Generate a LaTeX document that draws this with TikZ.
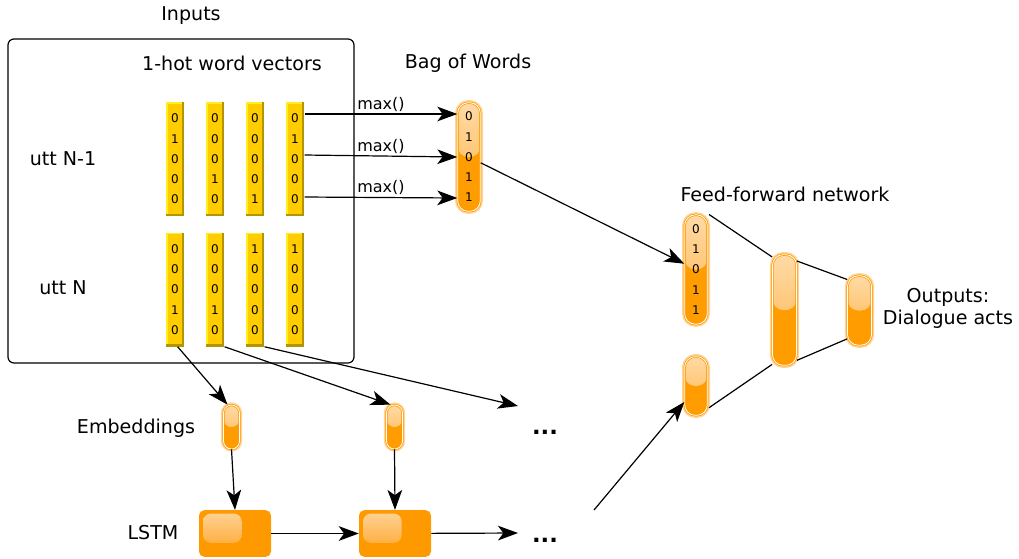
\documentclass[tikz,border=0pt]{standalone}
\usepackage{fontspec}
\setmainfont{DejaVu Sans}
\usetikzlibrary{arrows.meta}

\definecolor{barfill}{HTML}{FFCC00}
\definecolor{barlight}{HTML}{FFEE22}
\definecolor{bardark}{HTML}{B39500}
\definecolor{pillorange}{HTML}{FF9C00}
\definecolor{pilltop}{HTML}{FFDAA6}
\definecolor{pillmid}{HTML}{FFB446}
\definecolor{pillrim}{HTML}{FF9900}
\definecolor{pillglow}{HTML}{FFD698}
\definecolor{lstmorange}{HTML}{FF9900}
\definecolor{lstmshine}{HTML}{FFD49A}
\definecolor{lstmfade}{HTML}{FFA11E}

\tikzset{
	lbl/.style={font=\fontsize{14.3}{17}\selectfont},
	maxlbl/.style={font=\fontsize{12}{14}\selectfont, inner sep=1.5pt},
	dots/.style={font=\fontsize{17}{20}\selectfont\bfseries},
	digits/.style={font=\fontsize{9}{15.2}\selectfont},
	frame/.style={draw, line width=0.9pt, rounded corners=4.5pt, minimum width=259.5pt, minimum height=243pt},
	hotvec/.style={fill=barfill, minimum width=14pt, minimum height=85.5pt, inner sep=0pt, align=center, digits,
		path picture={
			\fill[barlight] (path picture bounding box.north west) rectangle ([xshift=1.4pt]path picture bounding box.south west);
			\fill[barlight] (path picture bounding box.north west) rectangle ([yshift=-1.4pt]path picture bounding box.north east);
			\fill[bardark] ([xshift=-1.8pt]path picture bounding box.north east) rectangle (path picture bounding box.south east);
			\fill[bardark] ([yshift=1.8pt]path picture bounding box.south west) rectangle (path picture bounding box.south east);
		}},
	pill/.style={rounded corners=#1, draw=pillrim, line width=0.55pt, double=white, double distance=0.6pt,
		fill=pillorange, inner sep=0pt, align=center, digits,
		preaction={draw=pillglow, line width=4pt},
		path picture={\shade[top color=pilltop, bottom color=pillmid]
			(path picture bounding box.north west) rectangle (path picture bounding box.east);}},
	lstm/.style={fill=lstmorange, rounded corners=4pt, minimum width=54pt, minimum height=35pt, inner sep=0pt,
		path picture={\shade[top color=lstmshine, bottom color=lstmfade, rounded corners=6pt]
			([xshift=3pt,yshift=-2.5pt]path picture bounding box.north west) rectangle ++(29pt,-22pt);}},
	conn/.style={-{Stealth[length=15pt,width=11pt,inset=4pt]}, line width=0.9pt},
	link/.style={line width=0.9pt},
}

\begin{document}
\begin{tikzpicture}[x=0.75pt, y=-0.75pt]
	\useasboundingbox (0,0) rectangle (1019,558);

	% inputs
	\node (box)[frame] at (181,201) {};
	\node (inputs)[lbl] at (191,16) {Inputs};
	\node (onehot)[lbl] at (232,63) {1-hot word vectors};
	\node (bowlbl)[lbl] at (468,63) {Bag of Words};
	\node (uttA)[lbl] at (63,159) {utt N-1};
	\node (uttB)[lbl] at (63,288) {utt N};

	\node (a1)[hotvec] at (175,159) {0\\1\\0\\0\\0};
	\node (a2)[hotvec] at (215,159) {0\\0\\0\\1\\0};
	\node (a3)[hotvec] at (255,159) {0\\0\\0\\0\\1};
	\node (a4)[hotvec] at (295,159) {0\\1\\0\\0\\0};

	\node (b1)[hotvec] at (175,289.5) {0\\0\\0\\1\\0};
	\node (b2)[hotvec] at (215,289.5) {0\\0\\0\\1\\0};
	\node (b3)[hotvec] at (255,289.5) {1\\0\\0\\0\\0};
	\node (b4)[hotvec] at (295,289.5) {1\\0\\0\\0\\0};

	% bag of words
	\node (bow)[pill=8pt, minimum width=17pt, minimum height=81.5pt] at (469,157) {0\\1\\0\\1\\1};
	\draw [conn](a4.east |- 0,114) -- (bow.west |- 0,114) node [midway, above, maxlbl]{max()};
	\draw [conn](a4.east |- 0,155) -- (bow.west |- 0,157) node [midway, above, maxlbl]{max()};
	\draw [conn](a4.east |- 0,197) -- (bow.west |- 0,198) node [midway, above, maxlbl]{max()};

	% feed-forward network
	\node (fflbl)[lbl] at (785,194) {Feed-forward network};
	\node (ff1)[pill=8pt, minimum width=17pt, minimum height=82pt] at (696,269.5) {0\\1\\0\\1\\1};
	\node (ff2)[pill=8pt, minimum width=17pt, minimum height=44pt] at (696,386) {};
	\node (hid)[pill=8pt, minimum width=18pt, minimum height=83pt] at (784.5,310) {};
	\node (out)[pill=8pt, minimum width=18pt, minimum height=52pt] at (859.5,310.5) {};
	\node (outlbl)[lbl, align=center] at (948,308.5) {Outputs:\\Dialogue acts};

	\draw [conn](bow) -- (ff1);
	\draw [link]([xshift=1pt]ff1.north east) -- ([yshift=-2pt]hid.north west);
	\draw [link]([xshift=1pt,yshift=6pt]ff2.south east) -- ([yshift=1pt]hid.south west);
	\draw [link]([yshift=-5pt]hid.north east) -- ([yshift=-3pt]out.north west);
	\draw [link]([yshift=4pt]hid.south east) -- ([yshift=5pt]out.south west);

	% embeddings and lstm
	\node (emblbl)[lbl] at (136,428) {Embeddings};
	\node (lstmlbl)[lbl] at (153,533) {LSTM};
	\node (emb1)[pill=6pt, minimum width=12pt, minimum height=33pt] at (231.5,427) {};
	\node (emb2)[pill=6pt, minimum width=12pt, minimum height=33pt] at (394.5,427) {};
	\node (l1)[lstm] at (235,533.5) {};
	\node (l2)[lstm] at (395,533.5) {};
	\node (dots1)[dots] at (545,432) {...};
	\node (dots2)[dots] at (545,540) {...};
	\coordinate (more1) at (518,406);
	\coordinate (more2) at (518,533);
	\coordinate (last) at (594,510);

	\draw [conn]([xshift=2pt]b1.south) -- ([xshift=-3pt]emb1.north);
	\draw [conn](b2.south east) -- ([xshift=-3pt]emb2.north);
	\draw [conn](b3.south east) -- (more1);
	\draw [conn](emb1.south) -- (l1.north);
	\draw [conn](emb2.south) -- (l2.north);
	\draw [conn](l1) -- (l2);
	\draw [conn](l2) -- (more2);
	\draw [conn](last) -- ([yshift=-12pt]ff2.west);
\end{tikzpicture}
\end{document}
